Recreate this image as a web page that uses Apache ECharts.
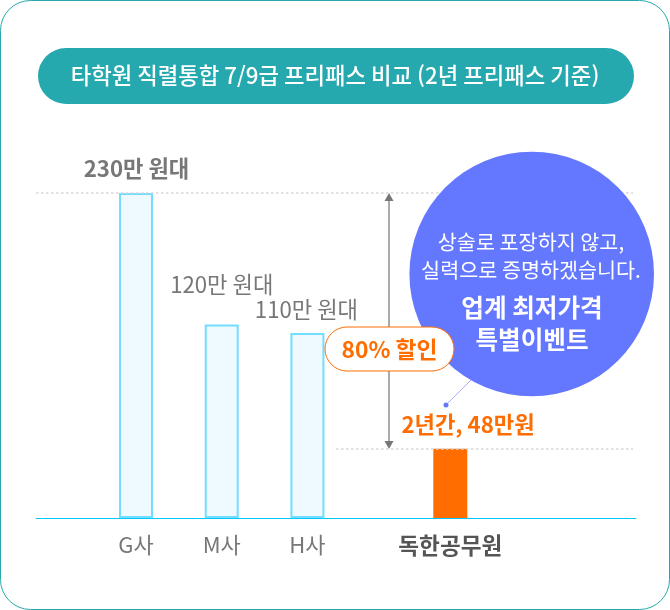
<!DOCTYPE html>
<html lang="ko">
  <head>
    <meta charset="UTF-8" />
    <title>프리패스 비교</title>
    <script src="https://cdn.jsdelivr.net/npm/echarts@6/dist/echarts.min.js"></script>
    <style>
      html, body { margin: 0; padding: 0; background: #fff; }
    </style>
  </head>
  <body>
    <div id="main" style="width: 670px; height: 610px"></div>
  </body>
  <script>
    const titleText = "타학원 직렬통합 7/9급 프리패스 비교 (2년 프리패스 기준)";

    // blank slots keep the uneven gaps between the companies
    const categories = ["", "", "", "G사", "", "", "M사", "", "", "H사", "", "", "", "", "독한공무원", "", "", "", "", "", ""];
    // bar heights as drawn (the picture is not to scale with its labels)
    const barValues = [null, null, null, 230, null, null, 137, null, null, 131, null, null, null, null, 49, null, null, null, null, null, null];
    const priceLabels = ["", "", "", "230만 원대", "", "", "120만 원대", "", "", "110만 원대", "", "", "", "", "2년간, 48만원", "", "", "", "", "", ""];

    const bubbleLines = ["상술로 포장하지 않고,", "실력으로 증명하겠습니다."];
    const bubbleTitle = ["업계 최저가격", "특별이벤트"];
    const discountText = "80% 할인";

    const FONT = '"Noto Sans CJK KR", "Noto Sans", sans-serif';
    const TEAL = "#26a9ae";
    const ORANGE = "#ff6d00";
    const BLUE = "#6478ff";

    const myChart = echarts.init(document.getElementById("main"));

    const labelStyle = {
      3: { fontWeight: "bold", distance: 13, offset: [0.5, 0] },
      6: { fontWeight: "normal", distance: 29, offset: [0, 0] },
      9: { fontWeight: "normal", distance: 12, offset: [-1, 0] },
      14: { fontWeight: "bold", distance: 13, offset: [17.7, 0], color: ORANGE },
    };

    const barData = barValues.map((v, i) => {
      if (v === null) return null;
      const isOurs = categories[i] === "독한공무원";
      return {
        value: v,
        itemStyle: isOurs
          ? { color: ORANGE, borderWidth: 0 }
          : { color: "#eefaff", borderColor: "#72ddff", borderWidth: 2 },
        label: Object.assign(
          { show: true, position: "top", formatter: priceLabels[i] },
          labelStyle[i]
        ),
      };
    });

    const axisData = categories.map((c) =>
      c === "독한공무원"
        ? { value: c, textStyle: { fontWeight: "bold", fontSize: 22.6, color: "#555" } }
        : c
    );

    const option = {
      animation: false,
      backgroundColor: "#fff",
      textStyle: { fontFamily: FONT },
      grid: { left: 36, right: 34, top: 193, bottom: 92 },
      xAxis: {
        type: "category",
        data: axisData,
        axisLine: { lineStyle: { color: "#00c8ff", width: 1 } },
        axisTick: { show: false },
        axisLabel: {
          interval: 0,
          margin: 16,
          fontSize: 22,
          color: "#777",
          fontFamily: FONT,
        },
      },
      yAxis: { type: "value", min: 0, max: 230, show: false },
      series: [
        {
          type: "bar",
          data: barData,
          barWidth: 34,
          label: { fontSize: 22.2, color: "#777", fontFamily: FONT },
          markLine: {
            silent: true,
            symbol: "none",
            label: { show: false },
            lineStyle: { color: "#d8d8d8", type: [2.5, 2.5], width: 1.5 },
            data: [
              [{ x: 36, yAxis: 230 }, { x: 633, yAxis: 230 }],
              [{ x: 336, yAxis: 49 }, { x: 633, yAxis: 49 }],
            ],
          },
        },
      ],
      graphic: [
        {
          type: "rect", z: 0, silent: true,
          shape: { x: 0.5, y: 0.5, width: 669, height: 609, r: 30 },
          style: { fill: "#fff", stroke: TEAL, lineWidth: 1 },
        },
        {
          type: "rect", z: 5, silent: true,
          shape: { x: 38, y: 48, width: 596, height: 56, r: 28 },
          style: { fill: TEAL },
        },
        {
          type: "text", z: 6, silent: true, x: 335, y: 76,
          style: {
            text: titleText, fill: "#fff", font: '500 22.3px ' + FONT,
            align: "center", verticalAlign: "middle",
          },
        },
        // span arrow
        {
          type: "line", z: 5, silent: true,
          shape: { x1: 389, y1: 198, x2: 389, y2: 444 },
          style: { stroke: "#aaa", lineWidth: 2 },
        },
        {
          type: "polygon", z: 5, silent: true,
          shape: { points: [[389, 193], [384.5, 201], [393.5, 201]] },
          style: { fill: "#777" },
        },
        {
          type: "polygon", z: 5, silent: true,
          shape: { points: [[389, 449], [384.5, 441], [393.5, 441]] },
          style: { fill: "#777" },
        },
        // bubble
        {
          type: "line", z: 7, silent: true,
          shape: { x1: 446, y1: 405, x2: 475, y2: 376 },
          style: { stroke: "#a3aeff", lineWidth: 1 },
        },
        {
          type: "circle", z: 7, silent: true,
          shape: { cx: 446, cy: 405, r: 2.5 },
          style: { fill: BLUE },
        },
        {
          type: "circle", z: 8, silent: true,
          shape: { cx: 531.7, cy: 274, r: 122.3 },
          style: { fill: BLUE },
        },
        ...bubbleLines.map((t, i) => ({
          type: "text", z: 9, silent: true, x: 531, y: 242 + i * 28,
          style: {
            text: t, fill: "#fff", font: '400 20.7px ' + FONT,
            align: "center", verticalAlign: "middle",
          },
        })),
        ...bubbleTitle.map((t, i) => ({
          type: "text", z: 9, silent: true, x: 532, y: 308 + i * 32,
          style: {
            text: t, fill: "#fff", font: 'bold 24.6px ' + FONT,
            align: "center", verticalAlign: "middle",
          },
        })),
        // discount pill
        {
          type: "rect", z: 10, silent: true,
          shape: { x: 325, y: 327, width: 129, height: 44, r: 22 },
          style: { fill: "#fff", stroke: ORANGE, lineWidth: 1 },
        },
        {
          type: "text", z: 11, silent: true, x: 389.5, y: 349,
          style: {
            text: discountText, fill: ORANGE, font: 'bold 22.8px ' + FONT,
            align: "center", verticalAlign: "middle",
          },
        },
      ],
    };

    myChart.setOption(option);
  </script>
</html>
